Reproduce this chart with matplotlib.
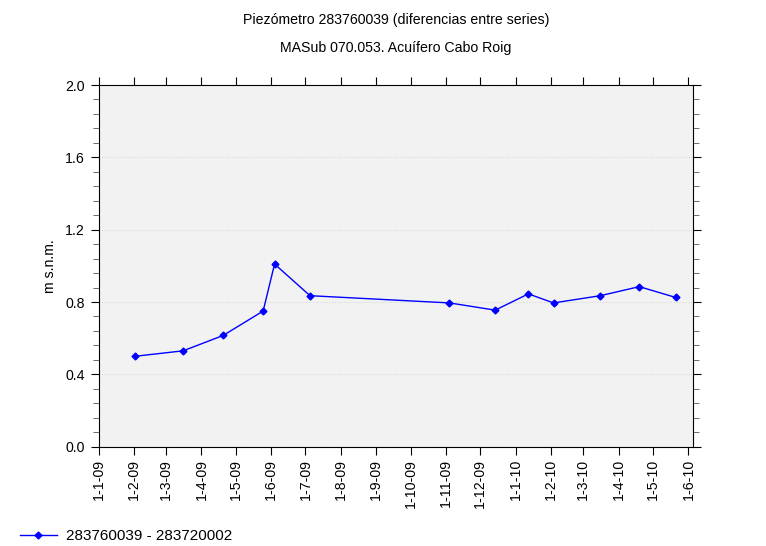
import datetime as dt
import matplotlib
matplotlib.use("Agg")
import matplotlib.pyplot as plt
import matplotlib.dates as mdates
from matplotlib.ticker import MultipleLocator, FuncFormatter

plt.rcParams['font.family'] = ['Liberation Sans', 'DejaVu Sans']

fechas = ["2009-02-02", "2009-03-16", "2009-04-20", "2009-05-25", "2009-06-04",
          "2009-07-05", "2009-11-04", "2009-12-14", "2010-01-12", "2010-02-03",
          "2010-03-16", "2010-04-19", "2010-05-21"]
dif = [0.50, 0.53, 0.615, 0.75, 1.01, 0.835, 0.795, 0.755, 0.845, 0.795,
       0.835, 0.885, 0.825]
serie = "283760039 - 283720002"
titulo = "Piezómetro 283760039 (diferencias entre series)"
subtitulo = "MASub 070.053. Acuífero Cabo Roig"

x = [dt.datetime.strptime(f, "%Y-%m-%d") for f in fechas]

fig = plt.figure(figsize=(7.66, 5.46), dpi=100)
ax = fig.add_axes([0.1286, 0.1819, 0.7761, 0.6624])
ax.set_facecolor("#f2f2f2")

ax.plot(x, dif, color="#0000ff", lw=1, marker="D", ms=3.5, label=serie)

ax.set_xlim(dt.datetime(2009, 1, 1), dt.datetime(2010, 6, 5))
ax.set_ylim(0, 2.0)

ax.xaxis.set_major_locator(mdates.MonthLocator())
ax.xaxis.set_major_formatter(FuncFormatter(
    lambda v, p: "{}-{}-{}".format(mdates.num2date(v).day, mdates.num2date(v).month,
                                   mdates.num2date(v).strftime("%y"))))
ax.yaxis.set_major_locator(MultipleLocator(0.4))
ax.yaxis.set_minor_locator(MultipleLocator(0.08))
ax.yaxis.set_major_formatter(FuncFormatter(lambda v, p: "%.1f" % v))

ax.tick_params(axis="x", which="major", direction="out", length=6, top=True,
               labelrotation=90, labelsize=10.2, pad=3)
ax.tick_params(axis="y", which="major", direction="out", length=6, right=True,
               labelsize=10.2, pad=4)
ax.tick_params(axis="y", which="minor", direction="out", length=4, right=True,
               color="#555555")
ax.grid(axis="y", which="major", color="#d8d8d8", ls=":", lw=0.8)
ax.set_axisbelow(True)

ax.set_ylabel("m s.n.m.", fontsize=10.2, labelpad=6)

fig.text(0.517, 0.963, titulo, ha="center", va="center", fontsize=10.2)
fig.text(0.517, 0.912, subtitulo, ha="center", va="center", fontsize=10.2)

fig.legend(loc="lower left", bbox_to_anchor=(0.014, -0.012), frameon=False,
           fontsize=11, handlelength=2.4, handletextpad=0.6, borderaxespad=0.2)

fig.savefig("out.png", dpi=100)
